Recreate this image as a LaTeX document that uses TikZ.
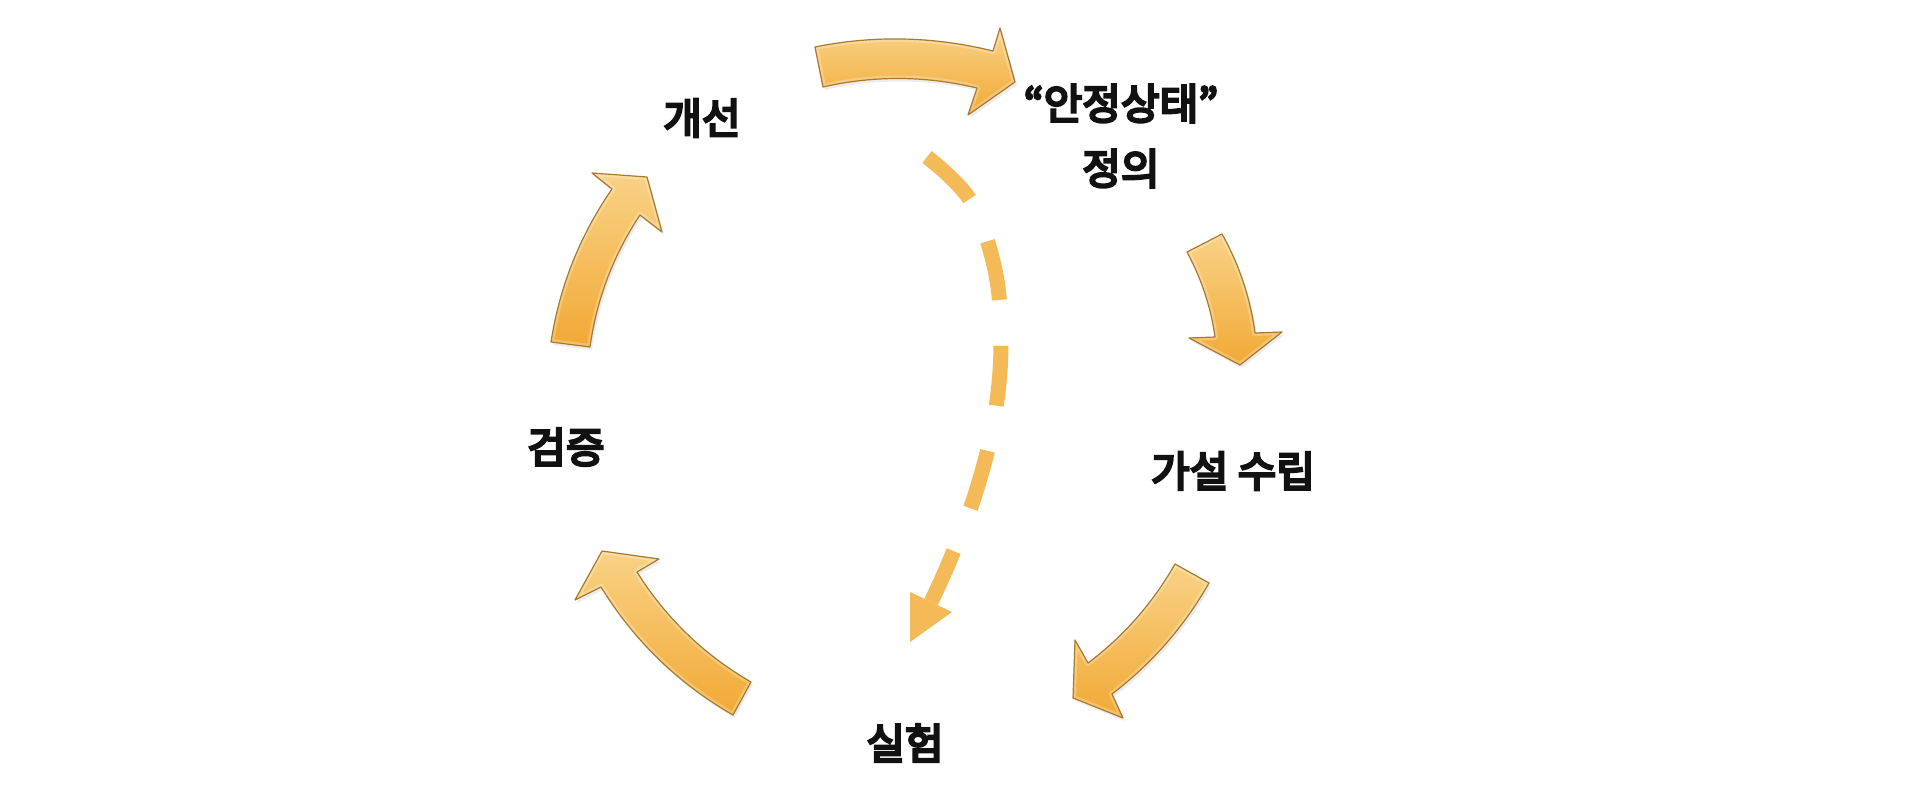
\documentclass[tikz,border=0pt]{standalone}
\usepackage{fontspec}
\newfontfamily\kr{Noto Sans CJK KR}[FakeBold=6]
\usetikzlibrary{shadows}
\definecolor{arrowtop}{HTML}{F9D286}
\definecolor{arrowbot}{HTML}{F1A935}
\definecolor{arrowedge}{HTML}{A87A2E}
\definecolor{dashcol}{HTML}{F4BA57}
\definecolor{textcol}{HTML}{111111}
\newcommand\arrTop{(815,47) .. controls (874,35) and (934,36.4) .. (993,51)
  -- (1000,28) -- (1015,82) -- (968,115) -- (977,88)
  .. controls (925.7,75.7) and (874.3,75.3) .. (823,87) -- cycle}
\newcommand\arrRight{(1187,252) -- (1222,234)
  .. controls (1239.3,264.9) and (1250.3,297.9) .. (1255,333)
  -- (1282,332) -- (1240,365) -- (1189,338) -- (1215,337)
  .. controls (1210.8,307) and (1201.4,278.7) .. (1187,252) -- cycle}
\newcommand\arrLowRight{(1175,564) -- (1209,583)
  .. controls (1184.2,626.6) and (1151.8,663.6) .. (1112,694)
  -- (1123,718) -- (1073,698) -- (1075,640) -- (1088,663)
  .. controls (1123.8,636) and (1152.8,603) .. (1175,564) -- cycle}
\newcommand\arrLowLeft{(733,715) -- (751,682)
  .. controls (703.9,654.7) and (665.9,618.1) .. (637,572)
  -- (659,559) -- (602,551) -- (575,600) -- (601,587)
  .. controls (634.2,640.9) and (678.2,683.5) .. (733,715) -- cycle}
\newcommand\arrLeft{(590,347) -- (551,342)
  .. controls (559.6,286.3) and (580,235.3) .. (612,189)
  -- (592,173) -- (647,177) -- (662,232) -- (640,215)
  .. controls (613.3,255.2) and (596.7,299.2) .. (590,347) -- cycle}
\begin{document}
\begin{tikzpicture}[x=1pt,y=-1pt,
  blockarrow/.style={top color=arrowtop, bottom color=arrowbot,
    drop shadow={shadow xshift=2pt, shadow yshift=-3pt, opacity=0.15}},
  bevel/.style={draw=white, draw opacity=0.25, line width=6pt, line join=round},
  rim/.style={draw=arrowedge, line width=1.2pt, line join=round},
  steplabel/.style={font=\kr\fontsize{42}{65}\selectfont, text=textcol,
    align=center, inner sep=0pt},
  dashline/.style={draw=dashcol, line width=15pt, dash pattern=on 60pt off 46pt}]
\useasboundingbox (0,0) rectangle (1920,792);

% labels
\node[steplabel] (define) at (1121,136) {“안정상태”\\정의};
\node[steplabel] (hypo) at (1233,471) {가설 수립};
\node[steplabel] (exp) at (905,743) {실험};
\node[steplabel] (verify) at (566,447) {검증};
\node[steplabel] (improve) at (702,118) {개선};

% cycle arrows
\foreach \a in {\arrTop,\arrRight,\arrLowRight,\arrLowLeft,\arrLeft}{
  \path[blockarrow] \a;
  \begin{scope}
    \clip \a;
    \path[bevel] \a;
  \end{scope}
  \path[rim] \a;
}

% dashed shortcut arrow
\coordinate (dstart) at (927,157);
\coordinate (dbase) at (931,602);
\coordinate (dtip) at (910,642);
\draw[dashline] plot[smooth, tension=0.6] coordinates
  {(dstart) (970,200) (995,270) (1001,345) (994,420) (975,495) (950,560) (dbase)};
\fill[dashcol] (910,592) -- (952,612) -- (dtip) -- cycle;
\end{tikzpicture}
\end{document}
